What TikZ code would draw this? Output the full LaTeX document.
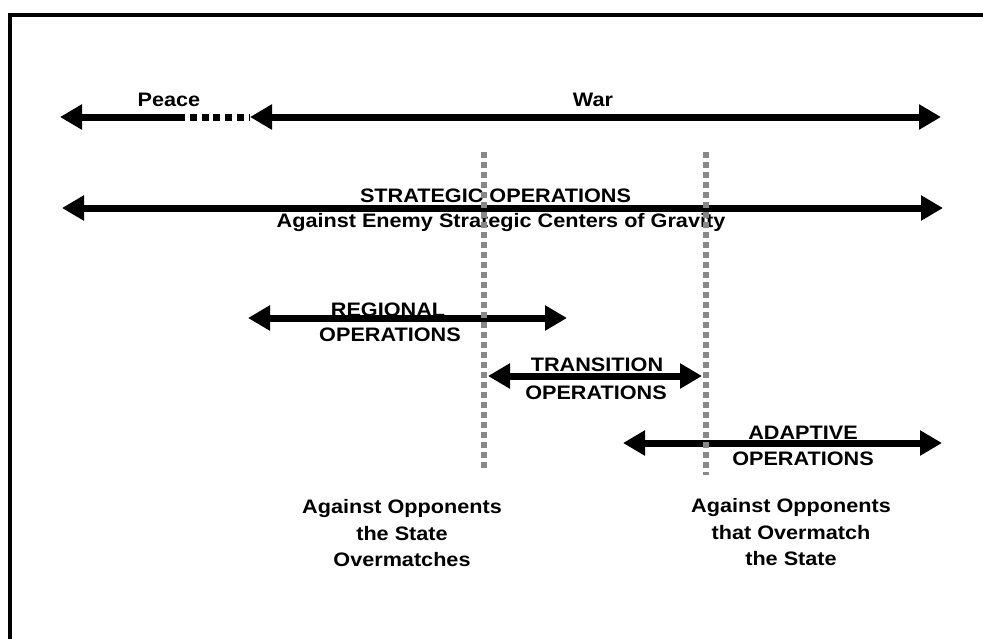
\documentclass[tikz,border=0pt]{standalone}
\usepackage{fontspec}
\setmainfont{Liberation Sans}[FakeStretch=1.11]
\usetikzlibrary{arrows.meta}
\tikzset{
  lbl/.style={anchor=base, inner sep=0pt, font=\bfseries\fontsize{19.5}{23}\selectfont},
  bigarrow/.style={line width=7pt, {Triangle[length=22pt,width=24pt]}-{Triangle[length=22pt,width=24pt]}},
  leftarrow/.style={line width=7pt, {Triangle[length=22pt,width=24pt]}-},
  dotline/.style={line width=7pt, dash pattern=on 7pt off 4.7pt},
  grayline/.style={line width=6pt, draw={rgb,255:red,136;green,136;blue,136}, dash pattern=on 5.5pt off 4.5pt},
  frame/.style={line width=4pt, miter limit=10}
}
\begin{document}
\begin{tikzpicture}[x=1pt,y=-1pt]
\useasboundingbox (0,0) rectangle (983,638);
\fill[white] (0,0) rectangle (983,638);
% frame
\coordinate (fb) at (10.3,640);
\coordinate (fc) at (10.3,15.3);
\coordinate (fr) at (985,15.3);
\draw[frame] (fb) -- (fc) -- (fr);
% peace / war
\coordinate (pl) at (60,117);
\coordinate (pr) at (185,117);
\coordinate (dl) at (190,117);
\coordinate (dr) at (250,117);
\coordinate (wl) at (250,117);
\coordinate (wr) at (941,117);
\draw[leftarrow] (pl) -- (pr);
\draw[dotline] (dl) -- (dr);
\draw[bigarrow] (wl) -- (wr);
\node[lbl] (peace) at (169,106) {Peace};
\node[lbl] (war) at (593,106) {War};
% strategic
\coordinate (sl) at (62,208);
\coordinate (sr) at (943,208);
\draw[bigarrow] (sl) -- (sr);
\node[lbl] (st1) at (495.5,202) {STRATEGIC OPERATIONS};
\node[lbl] (st2) at (501,227) {Against Enemy Strategic Centers of Gravity};
% regional
\coordinate (rl) at (248,318);
\coordinate (rr) at (567,318);
\draw[bigarrow] (rl) -- (rr);
\node[lbl] (rg1) at (388,316) {REGIONAL};
\node[lbl] (rg2) at (390,341) {OPERATIONS};
% transition
\coordinate (tl) at (488,376);
\coordinate (tr) at (702,376);
\draw[bigarrow] (tl) -- (tr);
\node[lbl] (tr1) at (597,371) {TRANSITION};
\node[lbl] (tr2) at (596,399) {OPERATIONS};
% adaptive
\coordinate (al) at (623,443);
\coordinate (ar) at (942,443);
\draw[bigarrow] (al) -- (ar);
\node[lbl] (ad1) at (803,439) {ADAPTIVE};
\node[lbl] (ad2) at (803,465) {OPERATIONS};
% bottom labels
\node[lbl] (bl1) at (402,513) {Against Opponents};
\node[lbl] (bl2) at (402,540) {the State};
\node[lbl] (bl3) at (402,566) {Overmatches};
\node[lbl] (br1) at (791,512) {Against Opponents};
\node[lbl] (br2) at (791,539) {that Overmatch};
\node[lbl] (br3) at (791,565) {the State};
% gray dotted dividers
\coordinate (g1t) at (484,152);
\coordinate (g1b) at (484,469);
\coordinate (g2t) at (706,152);
\coordinate (g2b) at (706,475);
\draw[grayline] (g1t) -- (g1b);
\draw[grayline] (g2t) -- (g2b);
\end{tikzpicture}
\end{document}
